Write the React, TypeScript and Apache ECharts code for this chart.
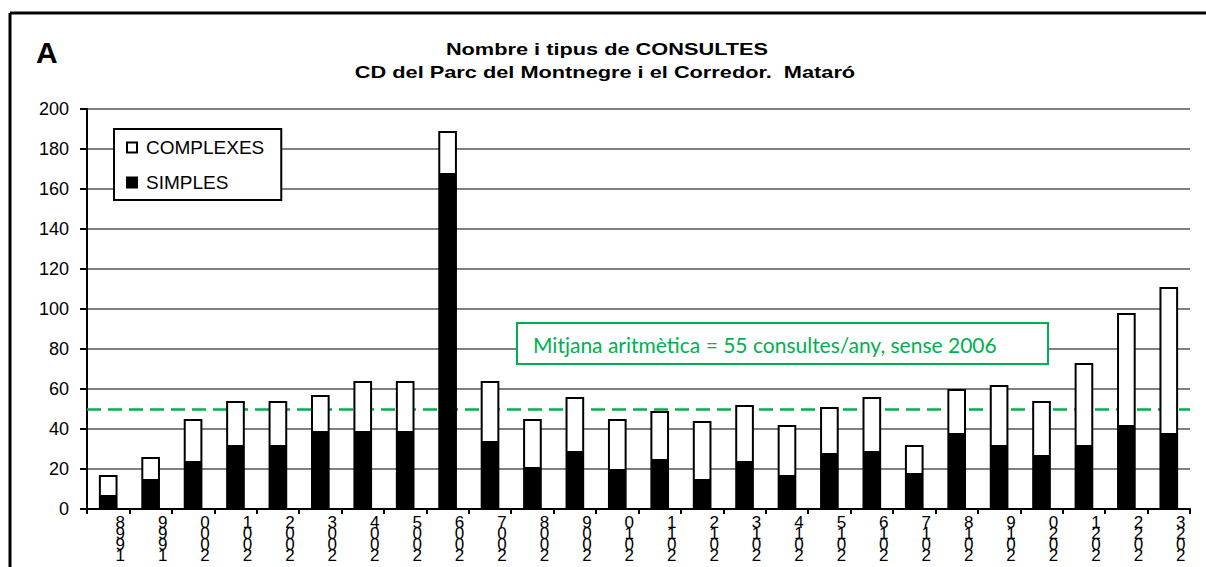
import React, { useEffect, useRef } from "react";
import * as echarts from "echarts";

const years = [
  "1998", "1999", "2000", "2001", "2002", "2003", "2004", "2005", "2006",
  "2007", "2008", "2009", "2010", "2011", "2012", "2013", "2014", "2015",
  "2016", "2017", "2018", "2019", "2020", "2021", "2022", "2023",
];
const simples = [6, 14, 23, 31, 31, 38, 38, 38, 167, 33, 20, 28, 19, 24, 14, 23, 16, 27, 28, 17, 37, 31, 26, 31, 41, 37];
const complexes = [11, 12, 22, 23, 23, 19, 26, 26, 22, 31, 25, 28, 26, 25, 30, 29, 26, 24, 28, 15, 23, 31, 28, 42, 57, 74];
const meanLineValue = 50;
const yTicks = { min: 0, max: 200, interval: 20 };
const titleLines = ["Nombre i tipus de CONSULTES", "CD del Parc del Montnegre i el Corredor.  Mataró"];
const panelLetter = "A";
const noteText = "Mitjana aritmètica = 55 consultes/any, sense 2006";

const ARIAL = "'Liberation Sans', Arial, sans-serif";
const GREEN = "#00B050";

export default function App() {
  const ref = useRef<HTMLDivElement>(null);
  useEffect(() => {
    if (!ref.current) return;
    const chart = echarts.init(ref.current, null, { renderer: "svg" });
    chart.setOption({
      animation: false,
      backgroundColor: "#fff",
      grid: { left: 87, right: 16, top: 109, bottom: 58, containLabel: false },
      legend: {
        orient: "vertical",
        left: 114,
        top: 129,
        data: ["COMPLEXES", "SIMPLES"],
        backgroundColor: "#fff",
        borderColor: "#000",
        borderWidth: 2,
        padding: [9, 17, 8, 12],
        itemWidth: 10,
        itemHeight: 10,
        itemGap: 16,
        icon: "rect",
        itemStyle: { borderWidth: 2 },
        textStyle: { fontFamily: ARIAL, fontSize: 19, color: "#000", padding: [0, 0, 0, 4] },
      },
      xAxis: {
        type: "category",
        data: years,
        boundaryGap: true,
        axisLine: { lineStyle: { color: "#000", width: 2 } },
        axisTick: { show: true, length: 5, lineStyle: { color: "#000", width: 2 } },
        axisLabel: {
          interval: 0,
          margin: 8,
          fontFamily: ARIAL,
          fontSize: 17,
          lineHeight: 11,
          color: "#000",
          padding: [0, 0, 0, 24],
          formatter: (v: string) => v.split("").reverse().join("\n"),
        },
      },
      yAxis: {
        type: "value",
        min: yTicks.min,
        max: yTicks.max,
        interval: yTicks.interval,
        axisLine: { show: true, lineStyle: { color: "#000", width: 2 } },
        axisTick: { show: true, length: 7, lineStyle: { color: "#000", width: 2 } },
        axisLabel: { fontFamily: ARIAL, fontSize: 18, color: "#000", margin: 18 },
        splitLine: { lineStyle: { color: "#808080", width: 2 } },
      },
      series: [
        {
          name: "SIMPLES",
          type: "bar",
          stack: "total",
          data: simples,
          barWidth: "44%",
          itemStyle: { color: "#000", borderColor: "#000", borderWidth: 2 },
          markLine: {
            silent: true,
            symbol: "none",
            label: { show: false },
            lineStyle: { color: GREEN, type: [14, 7], width: 2.5 },
            data: [{ yAxis: meanLineValue }],
            z: 1,
          },
        },
        {
          name: "COMPLEXES",
          type: "bar",
          stack: "total",
          data: complexes,
          barWidth: "44%",
          itemStyle: { color: "#fff", borderColor: "#000", borderWidth: 2 },
        },
      ],
      graphic: [
        {
          type: "line",
          shape: { x1: 10, y1: 13, x2: 1206, y2: 13 },
          style: { stroke: "#000", lineWidth: 3 },
          silent: true,
          z: 100,
        },
        {
          type: "line",
          shape: { x1: 10, y1: 13, x2: 10, y2: 567 },
          style: { stroke: "#000", lineWidth: 3 },
          silent: true,
          z: 100,
        },
        {
          type: "text",
          x: 36,
          y: 52,
          style: { text: panelLetter, font: `bold 30px ${ARIAL}`, fill: "#000", textAlign: "left", textVerticalAlign: "middle" },
          z: 100,
        },
        {
          type: "text",
          x: 607,
          y: 49,
          scaleX: 1.28,
          style: { text: titleLines[0], font: `bold 17px ${ARIAL}`, fill: "#000", textAlign: "center", textVerticalAlign: "middle" },
          z: 100,
        },
        {
          type: "text",
          x: 605,
          y: 72,
          scaleX: 1.28,
          style: { text: titleLines[1], font: `bold 17px ${ARIAL}`, fill: "#000", textAlign: "center", textVerticalAlign: "middle" },
          z: 100,
        },
        {
          type: "rect",
          shape: { x: 517, y: 323, width: 531, height: 41 },
          style: { fill: "#fff", stroke: GREEN, lineWidth: 2 },
          z: 100,
        },
        {
          type: "text",
          x: 533,
          y: 344,
          style: { text: noteText, font: `21px Lato, 'Open Sans', sans-serif`, fill: GREEN, textAlign: "left", textVerticalAlign: "middle" },
          z: 101,
        },
      ],
    });
    return () => chart.dispose();
  }, []);
  return <div ref={ref} style={{ position: "fixed", left: 0, top: 0, width: 1206, height: 567 }} />;
}
